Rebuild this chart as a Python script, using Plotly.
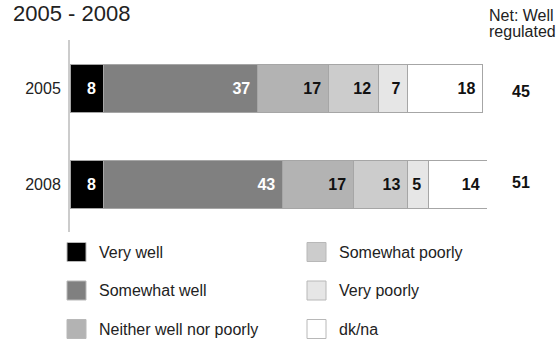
import plotly.graph_objects as go

# Survey results: how well is the sector regulated (percent of respondents)
years = ["2005", "2008"]
categories = ["Very well", "Somewhat well", "Neither well nor poorly",
              "Somewhat poorly", "Very poorly", "dk/na"]
very_well = [8, 8]
somewhat_well = [37, 43]
neither = [17, 17]
somewhat_poorly = [12, 13]
very_poorly = [7, 5]
dk_na = [18, 14]
net_well = [45, 51]

series = [very_well, somewhat_well, neither, somewhat_poorly, very_poorly, dk_na]
colors = ["#000000", "#808080", "#b3b3b3", "#cccccc", "#e6e6e6", "#ffffff"]
label_colors = ["#ffffff", "#ffffff", "#111111", "#111111", "#111111", "#111111"]

FONT = "Liberation Sans, Arial, sans-serif"
W, H = 560, 343
L, R, T, B = 70, 73, 40, 111
PW, PH = W - L - R, H - T - B


def px_x(X):
    return (X - L) / PW


def px_y(Y):
    return (H - B - Y) / PH


fig = go.Figure()
for name, vals, col, tcol in zip(categories, series, colors, label_colors):
    fig.add_trace(go.Bar(
        name=name, y=years, x=vals, orientation="h",
        marker=dict(color=col, line=dict(color="#a6a6a6", width=1)),
        text=[f"{v}\u00a0" for v in vals],
        textposition="inside", insidetextanchor="end", textangle=0,
        textfont=dict(family=FONT, size=16, color=tcol, weight="bold"),
        showlegend=False, hoverinfo="skip",
    ))

# Net "well regulated" figures to the right of each bar
net_y = [91, 182]
for yr, val, yy in zip(years, net_well, net_y):
    fig.add_annotation(xref="paper", yref="paper", x=px_x(521), y=px_y(yy),
                       text=f"<b>{val}</b>", showarrow=False,
                       xanchor="center", yanchor="middle",
                       font=dict(family=FONT, size=16, color="#111111"))

fig.add_annotation(xref="paper", yref="paper", x=px_x(487), y=px_y(15),
                   text="Net: Well", showarrow=False, xanchor="left", yanchor="middle",
                   font=dict(family=FONT, size=16, color="#222222"))
fig.add_annotation(xref="paper", yref="paper", x=px_x(487), y=px_y(31),
                   text="regulated", showarrow=False, xanchor="left", yanchor="middle",
                   font=dict(family=FONT, size=16, color="#222222"))

# Title
fig.add_annotation(xref="paper", yref="paper", x=px_x(11), y=px_y(14),
                   text="2005 - 2008", showarrow=False, xanchor="left", yanchor="middle",
                   font=dict(family=FONT, size=22, color="#222222"))

# Two-column key below the bars
col_x = [67, 307]
row_y = [252, 290.5, 329]
for i, (name, col) in enumerate(zip(categories, colors)):
    cx = col_x[i // 3]
    cy = row_y[i % 3]
    fig.add_shape(type="rect", xref="paper", yref="paper",
                  x0=px_x(cx), x1=px_x(cx + 19), y0=px_y(cy - 9.5), y1=px_y(cy + 9.5),
                  fillcolor=col, line=dict(color="#b8b8b8", width=1))
    fig.add_annotation(xref="paper", yref="paper", x=px_x(cx + 30), y=px_y(cy),
                       text=name, showarrow=False, xanchor="left", yanchor="middle",
                       font=dict(family=FONT, size=16, color="#222222"))

fig.update_layout(
    barmode="stack", bargap=0.5,
    width=W, height=H,
    margin=dict(l=L, r=R, t=T, b=B, pad=0),
    paper_bgcolor="white", plot_bgcolor="white",
    font=dict(family=FONT, size=16, color="#222222"),
    xaxis=dict(range=[0, 100], visible=False, fixedrange=True),
    yaxis=dict(type="category", autorange="reversed", showline=True,
               linecolor="#cccccc", linewidth=2, showgrid=False, zeroline=False,
               ticks="", ticklabelstandoff=4,
               tickfont=dict(family=FONT, size=16, color="#222222")),
)

fig.write_html("out.html")
